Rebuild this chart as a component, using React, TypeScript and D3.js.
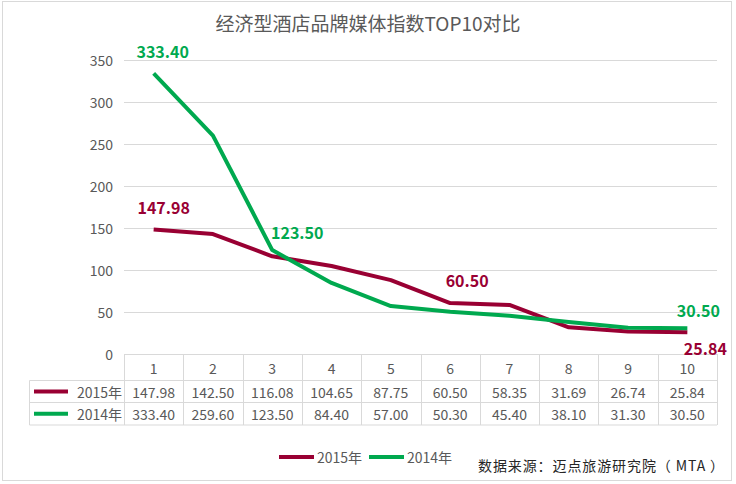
import { useEffect, useRef } from "react"
import * as d3 from "d3"

const categories = ["1", "2", "3", "4", "5", "6", "7", "8", "9", "10"]
const values2015 = [147.98, 142.5, 116.08, 104.65, 87.75, 60.5, 58.35, 31.69, 26.74, 25.84]
const values2014 = [333.4, 259.6, 123.5, 84.4, 57.0, 50.3, 45.4, 38.1, 31.3, 30.5]
const yTicks = [0, 50, 100, 150, 200, 250, 300, 350]

const series = [
  { name: "2015年", values: values2015, color: "#990033" },
  { name: "2014年", values: values2014, color: "#00A94F" },
]

// which points carry a data label, and where it sits (dx, dy from the point)
const labels2015 = [
  { index: 0, dx: 10, dy: -15 },
  { index: 5, dx: 17, dy: -16 },
  { index: 9, dx: 18, dy: 23 },
]
const labels2014 = [
  { index: 0, dx: 9, dy: -15 },
  { index: 2, dx: 25, dy: -11 },
  { index: 9, dx: 11, dy: -11 },
]

const font = "'Noto Sans CJK SC', 'Noto Sans', sans-serif"
const textGray = "#595959"
const gridGray = "#d9d9d9"

export default function App() {
  const svgRef = useRef<SVGSVGElement>(null)

  useEffect(() => {
    if (!svgRef.current) return
    const svg = d3.select(svgRef.current)
    svg.selectAll("*").remove()

    const width = 736
    const height = 484
    const left = 124
    const right = 717
    const top = 59.5
    const bottom = 354

    // outer frame
    svg.append("rect")
      .attr("x", 2.5).attr("y", 1.5)
      .attr("width", 729).attr("height", 479)
      .attr("fill", "#fff")
      .attr("stroke", gridGray)

    // title
    svg.append("text")
      .attr("x", 368).attr("y", 31)
      .attr("text-anchor", "middle")
      .attr("font-family", font)
      .attr("font-size", "19px")
      .attr("fill", textGray)
      .text("经济型酒店品牌媒体指数TOP10对比")

    const x = d3.scaleBand().domain(categories).range([left, right]).padding(0)
    const y = d3.scaleLinear().domain([0, 350]).range([bottom, top])
    const cx = (i: number) => (x(categories[i]) || 0) + x.bandwidth() / 2

    // grid lines + y labels
    yTicks.forEach((t) => {
      svg.append("line")
        .attr("x1", left).attr("x2", right)
        .attr("y1", Math.round(y(t)) + 0.5).attr("y2", Math.round(y(t)) + 0.5)
        .attr("stroke", gridGray)
      svg.append("text")
        .attr("x", 113).attr("y", y(t))
        .attr("text-anchor", "end")
        .attr("dominant-baseline", "central")
        .attr("font-family", font)
        .attr("font-size", "14px")
        .attr("fill", textGray)
        .text(t)
    })

    // lines
    const line = d3.line<number>()
      .x((_, i) => cx(i))
      .y((d) => y(d))

    series.forEach((s) => {
      svg.append("path")
        .datum(s.values)
        .attr("d", line)
        .attr("fill", "none")
        .attr("stroke", s.color)
        .attr("stroke-width", 4)
        .attr("stroke-linejoin", "round")
    })

    // data labels
    const drawLabels = (vals: number[], color: string, list: { index: number; dx: number; dy: number }[]) => {
      list.forEach((l) => {
        svg.append("text")
          .attr("x", cx(l.index) + l.dx)
          .attr("y", y(vals[l.index]) + l.dy)
          .attr("text-anchor", "middle")
          .attr("font-family", font)
          .attr("font-size", "16px")
          .attr("font-weight", "700")
          .attr("fill", color)
          .text(vals[l.index].toFixed(2))
      })
    }
    drawLabels(values2014, series[1].color, labels2014)
    drawLabels(values2015, series[0].color, labels2015)

    // data table
    const rowTops = [bottom, 380.5, 402.5, 425]
    const tableLeft = 29.5
    const tg = svg.append("g")

    // horizontal borders
    rowTops.slice(1).forEach((ry) => {
      tg.append("line")
        .attr("x1", tableLeft).attr("x2", right)
        .attr("y1", ry).attr("y2", ry)
        .attr("stroke", gridGray)
    })

    // vertical borders
    const cols = categories.map((c) => x(c) || 0).concat([right])
    cols.forEach((cxv) => {
      tg.append("line")
        .attr("x1", Math.round(cxv) + 0.5).attr("x2", Math.round(cxv) + 0.5)
        .attr("y1", rowTops[0]).attr("y2", rowTops[3])
        .attr("stroke", gridGray)
    })
    tg.append("line")
      .attr("x1", tableLeft).attr("x2", tableLeft)
      .attr("y1", rowTops[1]).attr("y2", rowTops[3])
      .attr("stroke", gridGray)

    // header row
    categories.forEach((c, i) => {
      tg.append("text")
        .attr("x", cx(i)).attr("y", (rowTops[0] + rowTops[1]) / 2 + 1)
        .attr("text-anchor", "middle")
        .attr("dominant-baseline", "central")
        .attr("font-family", font)
        .attr("font-size", "14px")
        .attr("fill", textGray)
        .text(c)
    })

    // value rows
    series.forEach((s, r) => {
      const yc = (rowTops[r + 1] + rowTops[r + 2]) / 2
      tg.append("line")
        .attr("x1", 34).attr("x2", 68)
        .attr("y1", yc).attr("y2", yc)
        .attr("stroke", s.color)
        .attr("stroke-width", 4)
      tg.append("text")
        .attr("x", 122).attr("y", yc)
        .attr("text-anchor", "end")
        .attr("dominant-baseline", "central")
        .attr("font-family", font)
        .attr("font-size", "14px")
        .attr("fill", textGray)
        .text(s.name)
      s.values.forEach((v, i) => {
        tg.append("text")
          .attr("x", cx(i)).attr("y", yc)
          .attr("text-anchor", "middle")
          .attr("dominant-baseline", "central")
          .attr("font-family", font)
          .attr("font-size", "14px")
          .attr("fill", textGray)
          .text(v.toFixed(2))
      })
    })

    // legend
    const legendX = [279, 369]
    series.forEach((s, i) => {
      svg.append("line")
        .attr("x1", legendX[i]).attr("x2", legendX[i] + 35)
        .attr("y1", 457).attr("y2", 457)
        .attr("stroke", s.color)
        .attr("stroke-width", 4)
      svg.append("text")
        .attr("x", legendX[i] + 38).attr("y", 457)
        .attr("dominant-baseline", "central")
        .attr("font-family", font)
        .attr("font-size", "14px")
        .attr("fill", textGray)
        .text(s.name)
    })

    // source note
    svg.append("text")
      .attr("x", 478).attr("y", 465)
      .attr("dominant-baseline", "central")
      .attr("font-family", font)
      .attr("font-size", "14px")
      .attr("letter-spacing", "0.9px")
      .attr("fill", "#262626")
      .text("数据来源：迈点旅游研究院（ MTA ）")

    svg.attr("width", width).attr("height", height)
  }, [])

  return (
    <svg
      ref={svgRef}
      width={736}
      height={484}
      style={{ position: "absolute", left: 0, top: 0, display: "block" }}
    />
  )
}
